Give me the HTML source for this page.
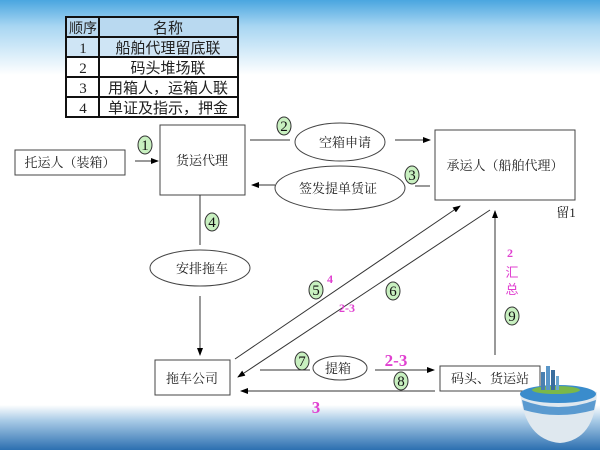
<!DOCTYPE html>
<html><head><meta charset="utf-8"><style>
html,body{margin:0;padding:0;width:600px;height:450px;overflow:hidden;background:#fff}
svg{display:block}
text{font-family:"Liberation Serif","Noto Serif CJK SC","Noto Sans CJK SC",serif;}
.s{font-family:"Noto Sans CJK SC","WenQuanYi Zen Hei",sans-serif;font-size:13px;fill:#222}
.m{fill:#e040d0;font-family:"Liberation Serif",serif;font-weight:bold}
</style></head><body>
<svg width="600" height="450" viewBox="0 0 600 450" xmlns="http://www.w3.org/2000/svg">
<defs>
<linearGradient id="top" x1="0" y1="0" x2="0" y2="1">
<stop offset="0" stop-color="#4aa6e0"/><stop offset="0.35" stop-color="#a8d6f2"/><stop offset="1" stop-color="#ffffff"/></linearGradient>
<linearGradient id="bot" x1="0" y1="0" x2="0" y2="1">
<stop offset="0" stop-color="#ffffff"/><stop offset="0.35" stop-color="#a8cae6"/><stop offset="1" stop-color="#2c6fb0"/></linearGradient>
<marker id="a" markerWidth="8" markerHeight="6" refX="7" refY="3" orient="auto" markerUnits="userSpaceOnUse"><path d="M0,0 L8,3 L0,6z" fill="#000"/></marker>
</defs>
<rect x="0" y="0" width="600" height="75" fill="url(#top)"/>
<rect x="0" y="405" width="600" height="45" fill="url(#bot)"/>

<g stroke="#111" stroke-width="2">
<rect x="66" y="17" width="172" height="100" fill="#fff"/>
<rect x="66" y="17" width="172" height="20" fill="#b9d9f0"/>
<rect x="66" y="37" width="172" height="20" fill="#cfe5f5"/>
<line x1="66" y1="57" x2="238" y2="57"/><line x1="66" y1="77" x2="238" y2="77"/><line x1="66" y1="97" x2="238" y2="97"/>
<line x1="99" y1="17" x2="99" y2="117"/>
</g>
<g text-anchor="middle" fill="#222">
<text x="83" y="33" class="s" style="font-size:14px">顺序</text>
<text x="168" y="33" class="s" style="font-size:15px">名称</text>
<text x="83" y="53" style="font-family:'Liberation Serif',serif;font-size:15px">1</text>
<text x="168" y="53" class="s" style="font-size:15px">船舶代理留底联</text>
<text x="83" y="73" style="font-family:'Liberation Serif',serif;font-size:15px">2</text>
<text x="168" y="73" class="s" style="font-size:15px">码头堆场联</text>
<text x="83" y="93" style="font-family:'Liberation Serif',serif;font-size:15px">3</text>
<text x="168" y="93" class="s" style="font-size:15px">用箱人，运箱人联</text>
<text x="83" y="113" style="font-family:'Liberation Serif',serif;font-size:15px">4</text>
<text x="168" y="113" class="s" style="font-size:15px">单证及指示，押金</text>
</g>

<g fill="#fff" stroke="#444" stroke-width="1">
<rect x="15" y="150" width="110" height="25"/>
<rect x="160" y="125" width="85" height="70"/>
<rect x="435" y="130" width="140" height="70"/>
<rect x="155" y="360" width="75" height="35"/>
<rect x="440" y="366" width="100" height="25"/>
<ellipse cx="340" cy="142" rx="45" ry="19"/>
<ellipse cx="340" cy="188" rx="65" ry="22"/>
<ellipse cx="200" cy="268" rx="50" ry="18"/>
<ellipse cx="340" cy="368" rx="27" ry="12"/>
</g>
<g class="s" text-anchor="middle">
<text x="70" y="167">托运人（装箱）</text>
<text x="202" y="165">货运代理</text>
<text x="505" y="170">承运人（船舶代理）</text>
<text x="192" y="383">拖车公司</text>
<text x="490" y="383">码头、货运站</text>
<text x="345" y="147">空箱申请</text>
<text x="338" y="193">签发提单赁证</text>
<text x="202" y="273">安排拖车</text>
<text x="338" y="373">提箱</text>
<text x="566" y="217" style="font-size:13px">留1</text>
</g>

<g stroke="#333" stroke-width="1" fill="none">
<line x1="135" y1="161" x2="158" y2="161" marker-end="url(#a)"/>
<line x1="250" y1="140" x2="290" y2="140"/>
<line x1="395" y1="140" x2="430" y2="140" marker-end="url(#a)"/>
<line x1="430" y1="186" x2="415" y2="186"/>
<line x1="275" y1="185" x2="252" y2="185" marker-end="url(#a)"/>
<line x1="200" y1="195" x2="200" y2="245"/>
<line x1="200" y1="296" x2="200" y2="355" marker-end="url(#a)"/>
<line x1="235" y1="359" x2="460" y2="206" marker-end="url(#a)"/>
<line x1="490" y1="210" x2="238" y2="377" marker-end="url(#a)"/>
<line x1="495" y1="355" x2="495" y2="211" marker-end="url(#a)"/>
<line x1="260" y1="370" x2="310" y2="370"/>
<line x1="375" y1="370" x2="434" y2="370" marker-end="url(#a)"/>
<line x1="435" y1="391" x2="241" y2="391" marker-end="url(#a)"/>
</g>

<g fill="#c8f0c0" stroke="#333" stroke-width="1">
<ellipse cx="145" cy="145" rx="7" ry="9"/>
<ellipse cx="284" cy="126" rx="7" ry="9"/>
<ellipse cx="412" cy="175" rx="7" ry="9"/>
<ellipse cx="212" cy="222" rx="7" ry="9"/>
<ellipse cx="316" cy="290" rx="7" ry="9"/>
<ellipse cx="393" cy="291" rx="7" ry="9"/>
<ellipse cx="512" cy="316" rx="7" ry="9"/>
<ellipse cx="302" cy="361" rx="7" ry="9"/>
<ellipse cx="401" cy="381" rx="7" ry="9"/>
</g>
<g font-size="15" text-anchor="middle" fill="#111" style="font-family:'Liberation Serif',serif">
<text x="145" y="150">1</text><text x="284" y="131">2</text><text x="412" y="180">3</text>
<text x="212" y="227">4</text><text x="316" y="295">5</text><text x="393" y="296">6</text>
<text x="512" y="321">9</text><text x="302" y="366">7</text><text x="401" y="386">8</text>
</g>
<g class="m" text-anchor="middle">
<text x="330" y="283" font-size="12">4</text>
<text x="347" y="312" font-size="12">2-3</text>
<text x="510" y="257" font-size="12">2</text>
<text x="396" y="366" font-size="17">2-3</text>
<text x="316" y="413" font-size="17">3</text>
</g>
<g text-anchor="middle">
<text x="512" y="277" class="s" style="fill:#e040d0">汇</text>
<text x="512" y="294" class="s" style="fill:#e040d0">总</text>
</g>

<g>
<path d="M520,392 Q560,382 597,392 Q595,440 560,443 Q525,440 520,392z" fill="#dfe8ef"/>
<ellipse cx="558" cy="394" rx="38" ry="9" fill="#3a8ccc"/>
<ellipse cx="556" cy="390" rx="24" ry="4" fill="#7ab84a"/>
<rect x="541" y="372" width="4" height="18" fill="#4a80b0"/>
<rect x="546" y="366" width="4" height="24" fill="#5a96c8"/>
<rect x="551" y="370" width="4" height="20" fill="#3a6e9e"/>
<rect x="556" y="376" width="3" height="14" fill="#6aa6d0"/>
<path d="M522,400 Q558,414 596,400 L594,410 Q558,420 524,410z" fill="#5a9ad0"/>
</g>
</svg>
</body></html>
